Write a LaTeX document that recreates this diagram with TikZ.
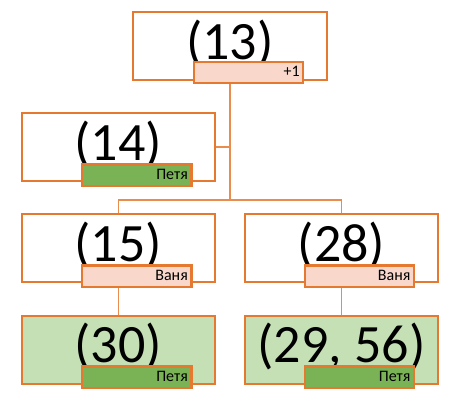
\documentclass[tikz,border=0pt]{standalone}
\usepackage{fontspec}
\setmainfont{Carlito}
\usetikzlibrary{backgrounds}
\definecolor{orng}{HTML}{E5792F}
\definecolor{lgreen}{HTML}{C5E0B4}
\definecolor{dgreen}{HTML}{7AB356}
\definecolor{pinkl}{HTML}{F9D8CB}
\begin{document}
\begin{tikzpicture}[x=1pt,y=-1pt,
  mainbox/.style={draw=orng, line width=2.3pt, fill=white, minimum width=192.7pt, minimum height=67.4pt,
    inner sep=0pt, font=\fontsize{54}{54}\selectfont, text height=35pt, text depth=9pt},
  donebox/.style={mainbox, fill=lgreen},
  tagbox/.style={draw=orng, line width=2.3pt, minimum width=109.3pt, minimum height=21.5pt,
    inner xsep=3.5pt, inner ysep=0pt, text width=102.3pt, align=right,
    font=\fontsize{16}{16}\selectfont, text height=11pt, text depth=3pt},
  pinktag/.style={tagbox, fill=pinkl},
  greentag/.style={tagbox, fill=dgreen},
  conn/.style={draw=orng!85, line width=1.6pt}
]
\useasboundingbox (0,0) rectangle (453,405);
\node[mainbox, minimum width=194pt, minimum height=68pt] (b13) at (230,46) {(13)};
\node[pinktag] (l13) at (248.5,72.5) {+1};
\node[mainbox] (b14) at (118.3,147) {(14)};
\node[greentag] (l14) at (136.7,175.2) {Петя};
\node[mainbox] (b15) at (118.3,248) {(15)};
\node[pinktag] (l15) at (136.7,276.3) {Ваня};
\node[mainbox] (b28) at (341.5,248) {(28)};
\node[pinktag] (l28) at (359.3,276.3) {Ваня};
\node[donebox, minimum height=68.3pt] (b30) at (118.3,349.8) {(30)};
\node[greentag] (l30) at (136.7,377.3) {Петя};
\node[donebox, minimum height=68.3pt] (b2956) at (341.5,349.8) {(29, 56)};
\node[greentag] (l2956) at (359.3,377.3) {Петя};
\coordinate (j) at (230,200);
\begin{pgfonlayer}{background}
\draw[conn] (b13.south) -- (j);
\draw[conn] (j) -| (b15.north);
\draw[conn] (j) -| (b28.north);
\draw[conn] (b13.south |- b14.east) -- (b14.east);
\draw[conn] (b15.south) -- (b30.north);
\draw[conn] (b28.south) -- (b2956.north);
\end{pgfonlayer}
\end{tikzpicture}
\end{document}
